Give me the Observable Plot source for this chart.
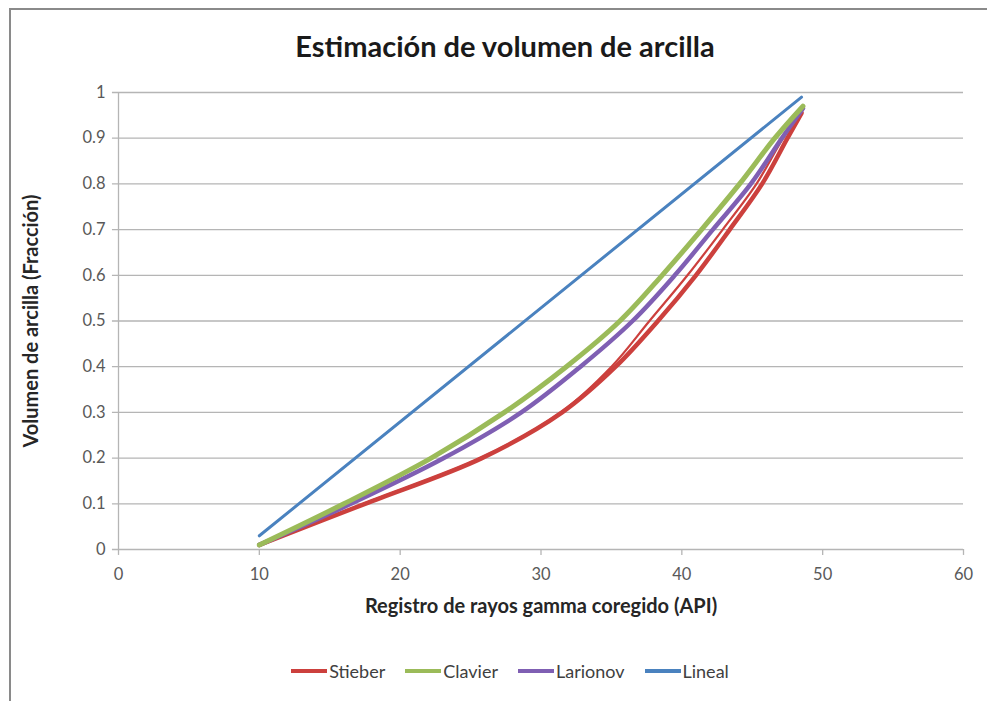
<!DOCTYPE html>
<html>
<head>
<meta charset="utf-8">
<script src="https://cdn.jsdelivr.net/npm/d3@7"></script>
<script src="https://cdn.jsdelivr.net/npm/@observablehq/plot@0.6"></script>
<style>
  html, body { margin: 0; padding: 0; background: #fff; }
  #wrap { position: relative; width: 987px; height: 701px; overflow: hidden; font-family: Lato, "Open Sans", sans-serif; }
  #frame { position: absolute; left: 9px; top: 8px; width: 990px; height: 700px; border-top: 2px solid #8a8a8a; border-left: 2px solid #8a8a8a; }
  #title { position: absolute; top: 31px; left: 505px; transform: translateX(-50%); font-size: 29px; font-weight: bold; color: #1a1a1a; white-space: nowrap; line-height: 1; }
  #chart { position: absolute; left: 0; top: 0; }
  #legend { position: absolute; top: 662px; left: 0; width: 1020px; display: flex; justify-content: center; gap: 20px; font-size: 18px; color: #404040; line-height: 1; }
  .item { display: flex; align-items: center; }
  .sw { width: 36px; height: 3.5px; margin-right: 2px; }
</style>
</head>
<body>
<div id="wrap">
  <div id="frame"></div>
  <div id="chart"></div>
  <div id="title">Estimación de volumen de arcilla</div>
  <div id="legend"></div>
</div>
<script>
// Tick values
const xTicks = [0, 10, 20, 30, 40, 50, 60];
const yTicks = [0, 0.1, 0.2, 0.3, 0.4, 0.5, 0.6, 0.7, 0.8, 0.9, 1];

// Series names and colours
const seriesNames = ["Stieber", "Clavier", "Larionov", "Lineal"];
const seriesColors = ["#cc403d", "#9bbb59", "#7f5fb3", "#4a82bf"];

// Stieber (outbound path and slightly offset return path)
const stieberX  = [10, 17.5, 25.8, 31.5, 35.3, 38.3, 41.0, 43.4, 45.7, 47.5, 48.5];
const stieberY  = [0.01, 0.1, 0.2, 0.3, 0.4, 0.5, 0.6, 0.7, 0.8, 0.9, 0.955];
const stieber2X = [48.5, 47.2, 45.3, 42.9, 40.4, 37.7, 35.0, 31.4, 25.7, 17.4, 10];
const stieber2Y = [0.955, 0.9, 0.8, 0.7, 0.6, 0.5, 0.4, 0.3, 0.2, 0.1, 0.01];

// Clavier
const clavierX = [10, 16.0, 22.2, 27.4, 31.8, 35.6, 38.6, 41.4, 44.1, 46.6, 48.6];
const clavierY = [0.01, 0.1, 0.2, 0.3, 0.4, 0.5, 0.6, 0.7, 0.8, 0.9, 0.97];

// Larionov
const larionovX = [10, 16.5, 23.1, 28.6, 32.8, 36.5, 39.5, 42.2, 44.9, 47.1, 48.6];
const larionovY = [0.01, 0.1, 0.2, 0.3, 0.4, 0.5, 0.6, 0.7, 0.8, 0.9, 0.965];

// Lineal
const linealX = [10, 48.5];
const linealY = [0.03, 0.99];

const pts = (xs, ys) => xs.map((x, i) => ({x, y: ys[i]}));
const grid = "#b5b5b5";

const plot = Plot.plot({
  width: 987,
  height: 701,
  marginTop: 92,
  marginBottom: 152,
  marginLeft: 118,
  marginRight: 24,
  x: {domain: [0, 60]},
  y: {domain: [0, 1]},
  style: {fontFamily: "Lato, 'Open Sans', sans-serif", background: "transparent", overflow: "visible"},
  marks: [
    Plot.ruleY(yTicks, {x1: -0.43, x2: 60, stroke: grid, strokeWidth: 1.3}),
    Plot.ruleX([0], {y1: 0, y2: 1, stroke: grid, strokeWidth: 1.3}),
    Plot.ruleX(xTicks, {y1: -0.013, y2: 0, stroke: grid, strokeWidth: 1.3}),
    Plot.axisY(yTicks, {tickSize: 0, tickPadding: 13, fontSize: 16.5, color: "#595959", label: null, tickFormat: d => String(d)}),
    Plot.axisX(xTicks, {tickSize: 0, tickPadding: 19, fontSize: 16.5, color: "#595959", label: null, tickFormat: d => String(d)}),
    Plot.line(pts(linealX, linealY), {x: "x", y: "y", stroke: seriesColors[3], strokeWidth: 3}),
    Plot.line(pts(stieber2X, stieber2Y), {x: "x", y: "y", stroke: seriesColors[0], strokeWidth: 2.2, curve: "catmull-rom"}),
    Plot.line(pts(stieberX, stieberY), {x: "x", y: "y", stroke: seriesColors[0], strokeWidth: 4.5, curve: "catmull-rom"}),
    Plot.line(pts(larionovX, larionovY), {x: "x", y: "y", stroke: seriesColors[2], strokeWidth: 4.5, curve: "catmull-rom"}),
    Plot.line(pts(clavierX, clavierY), {x: "x", y: "y", stroke: seriesColors[1], strokeWidth: 5, curve: "catmull-rom"}),
    Plot.text(["Registro de rayos gamma coregido (API)"], {frameAnchor: "bottom", dy: 63, fontSize: 20, fontWeight: "bold", fill: "#262626"}),
    Plot.text(["Volumen de arcilla (Fracción)"], {frameAnchor: "left", dx: -87, rotate: -90, textAnchor: "middle", fontSize: 20, fontWeight: "bold", fill: "#262626"})
  ]
});
document.getElementById("chart").appendChild(plot);

const legend = document.getElementById("legend");
seriesNames.forEach((name, i) => {
  const item = document.createElement("div");
  item.className = "item";
  const sw = document.createElement("div");
  sw.className = "sw";
  sw.style.background = seriesColors[i];
  const t = document.createElement("span");
  t.textContent = name;
  item.appendChild(sw);
  item.appendChild(t);
  legend.appendChild(item);
});
</script>
</body>
</html>
